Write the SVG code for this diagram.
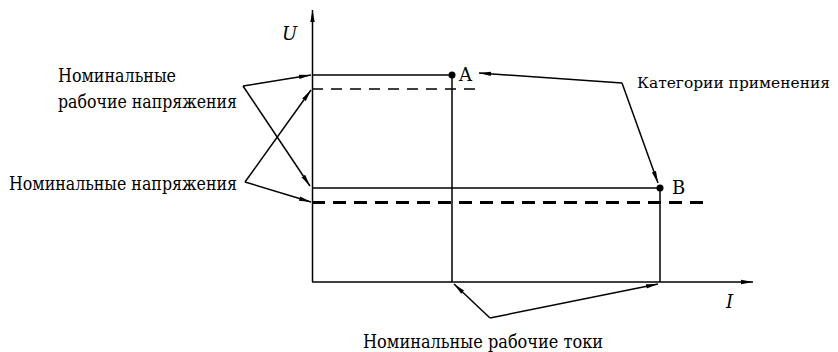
<svg xmlns="http://www.w3.org/2000/svg" width="838" height="352" viewBox="0 0 838 352">
<defs>
<marker id="ah" viewBox="0 0 12 6" refX="12" refY="3" markerWidth="12" markerHeight="6" markerUnits="userSpaceOnUse" orient="auto">
<path d="M0,0.8 L12,3 L0,5.2 Z" fill="#000"/>
</marker>
</defs>
<style>
.ln{stroke:#000;stroke-width:1.5;fill:none}
.ar{stroke:#000;stroke-width:1.5;fill:none;marker-end:url(#ah)}
text{font-family:'DejaVu Serif','Liberation Serif',serif;fill:#000}
.t{font-size:18px}
.it{font-size:18px;font-style:italic}
</style>
<rect width="838" height="352" fill="#fff"/>
<g id="axes">
<line class="ar" x1="312.5" y1="282" x2="312.5" y2="10"/>
<line class="ar" x1="312" y1="282" x2="753" y2="282"/>
<text class="it" x="282" y="40" font-family="DejaVu Serif, serif">U</text>
<text class="it" x="726" y="308" font-family="DejaVu Serif, serif">I</text>
</g>
<g id="pointA">
<line class="ln" x1="312" y1="75" x2="452" y2="75"/>
<line class="ln" x1="452" y1="75" x2="452" y2="282"/>
<circle cx="452" cy="75" r="3.5" fill="#000"/>
<text class="t" x="459" y="81" font-family="DejaVu Serif, serif">A</text>
<line class="ln" x1="312" y1="89" x2="482" y2="89" stroke-dasharray="11,8"/>
</g>
<g id="pointB">
<line class="ln" x1="312" y1="188" x2="660" y2="188"/>
<line class="ln" x1="660" y1="188" x2="660" y2="282"/>
<circle cx="660" cy="188" r="3.5" fill="#000"/>
<text class="t" x="672" y="194" font-family="DejaVu Serif, serif">B</text>
<line x1="312" y1="202.5" x2="703" y2="202.5" stroke="#000" stroke-width="3" stroke-dasharray="13,8"/>
</g>
<g id="label-work-voltage">
<text class="t" x="58" y="82" textLength="118" lengthAdjust="spacingAndGlyphs" font-family="DejaVu Serif, serif">Номинальные</text>
<text class="t" x="58" y="108" textLength="179" lengthAdjust="spacingAndGlyphs" font-family="DejaVu Serif, serif">рабочие напряжения</text>
</g>
<g id="label-voltage">
<text class="t" x="9" y="190" textLength="228" lengthAdjust="spacingAndGlyphs" font-family="DejaVu Serif, serif">Номинальные напряжения</text>
</g>
<g id="label-category">
<text class="t" x="637" y="88" font-size="15.5" textLength="193" lengthAdjust="spacingAndGlyphs" font-family="DejaVu Serif, serif" style="font-size:15.5px">Категории применения</text>
</g>
<g id="label-currents">
<text class="t" x="363" y="348" textLength="240" lengthAdjust="spacingAndGlyphs" font-family="DejaVu Serif, serif">Номинальные рабочие токи</text>
</g>
<g id="connectors">
<line class="ar" x1="243" y1="86" x2="311" y2="75"/>
<line class="ar" x1="243" y1="86" x2="310" y2="186"/>
<line class="ar" x1="245" y1="182" x2="311" y2="90"/>
<line class="ar" x1="245" y1="182" x2="311" y2="202"/>
<line class="ar" x1="622" y1="83" x2="479" y2="73"/>
<line class="ar" x1="622" y1="83" x2="658" y2="183"/>
<line class="ar" x1="490" y1="318" x2="454" y2="284"/>
<line class="ar" x1="490" y1="318" x2="658" y2="284"/>
</g>
</svg>
